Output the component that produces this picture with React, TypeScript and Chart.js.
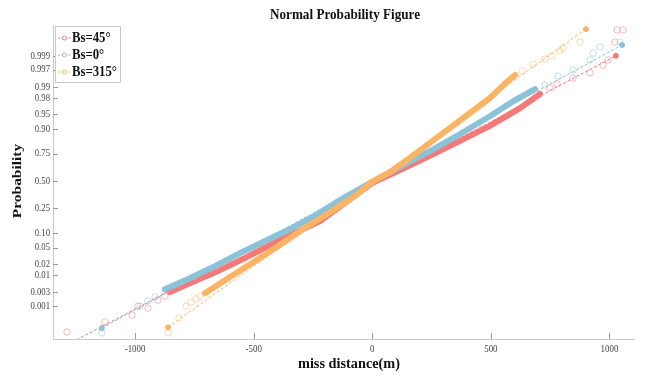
import React, { useEffect, useRef } from "react";
import { Chart, registerables } from "chart.js";
Chart.register(...registerables);

// ---------- data ----------
const probTickLabels = ["0.001", "0.003", "0.01", "0.02", "0.05", "0.10", "0.25", "0.50", "0.75", "0.90", "0.95", "0.98", "0.99", "0.997", "0.999"];
const xTickValues = [-1000, -500, 0, 500, 1000];
const seriesNames = ["Bs=45°", "Bs=0°", "Bs=315°"];

// y values are normal quantiles (probit) of the plotting positions
const red45CoreX = [-853, -748, -642, -537, -431, -326, -220, -115, -1, 117, 243, 370, 496, 623, 707];
const red45CoreQ = [-2.74, -2.47, -2.2, -1.9, -1.58, -1.28, -0.99, -0.54, -0.05, 0.27, 0.62, 0.99, 1.36, 1.8, 2.15];
const red45TailX = [-1287, -1127, -1013, -988, -946, -904, -874, 749, 779, 846, 918, 973, 994, 1023, 1032, 1057];
const red45TailQ = [-3.73, -3.48, -3.31, -3.09, -3.14, -2.94, -2.84, 2.3, 2.4, 2.54, 2.67, 2.86, 2.99, 3.43, 3.73, 3.73];
const red45RefX = [-1266, 1027];
const red45RefQ = [-3.98, 3.09];

const blue0CoreX = [-874, -769, -663, -558, -452, -347, -242, -136, -1, 117, 243, 370, 496, 602, 686];
const blue0CoreQ = [-2.67, -2.4, -2.1, -1.78, -1.48, -1.19, -0.86, -0.47, -0.02, 0.35, 0.74, 1.16, 1.6, 2.0, 2.27];
const blue0TailX = [-1140, -979, -946, -916, 728, 783, 846, 918, 931, 960, 1044];
const blue0TailQ = [-3.75, -3.09, -2.96, -2.86, 2.37, 2.59, 2.74, 2.99, 3.16, 3.31, 3.43];
const blue0RefX = [-1140, 1053];
const blue0RefQ = [-3.63, 3.36];

const orange315CoreX = [-705, -600, -495, -389, -284, -178, -73, -1, 75, 159, 243, 328, 412, 496, 559, 602];
const orange315CoreQ = [-2.77, -2.37, -1.98, -1.58, -1.16, -0.77, -0.37, -0.02, 0.22, 0.57, 0.94, 1.31, 1.68, 2.05, 2.4, 2.62];
const orange315TailX = [-861, -815, -785, -764, -743, -726, 631, 678, 728, 758, 791, 804, 876];
const orange315TailQ = [-3.75, -3.38, -3.09, -2.99, -2.91, -2.84, 2.72, 2.89, 3.01, 3.09, 3.21, 3.28, 3.43];
const orange315RefX = [-861, 901];
const orange315RefQ = [-3.61, 3.75];

// ---------- helpers ----------
function norminv(p: number): number {
  const a = [-3.969683028665376e1, 2.209460984245205e2, -2.759285104469687e2, 1.38357751867269e2, -3.066479806614716e1, 2.506628277459239];
  const b = [-5.447609879822406e1, 1.615858368580409e2, -1.556989798598866e2, 6.680131188771972e1, -1.328068155288572e1];
  const c = [-7.784894002430293e-3, -3.223964580411365e-1, -2.400758277161838, -2.549732539343734, 4.374664141464968, 2.938163982698783];
  const d = [7.784695709041462e-3, 3.224671290700398e-1, 2.445134137142996, 3.754408661907416];
  const pl = 0.02425;
  if (p < pl) {
    const q = Math.sqrt(-2 * Math.log(p));
    return (((((c[0] * q + c[1]) * q + c[2]) * q + c[3]) * q + c[4]) * q + c[5]) / ((((d[0] * q + d[1]) * q + d[2]) * q + d[3]) * q + 1);
  }
  if (p > 1 - pl) {
    const q = Math.sqrt(-2 * Math.log(1 - p));
    return -(((((c[0] * q + c[1]) * q + c[2]) * q + c[3]) * q + c[4]) * q + c[5]) / ((((d[0] * q + d[1]) * q + d[2]) * q + d[3]) * q + 1);
  }
  const q = p - 0.5;
  const r = q * q;
  return ((((((a[0] * r + a[1]) * r + a[2]) * r + a[3]) * r + a[4]) * r + a[5]) * q) / (((((b[0] * r + b[1]) * r + b[2]) * r + b[3]) * r + b[4]) * r + 1);
}

const pts = (xs: number[], ys: number[]) => xs.map((x, i) => ({ x, y: ys[i] }));

const RED = "rgb(243,122,120)";
const BLUE = "rgb(138,194,216)";
const ORANGE = "rgb(251,180,100)";
const RED_T = "rgba(243,122,120,0.5)";
const BLUE_T = "rgba(138,194,216,0.5)";
const ORANGE_T = "rgba(251,180,100,0.5)";
const SERIF = '"Liberation Serif", "Times New Roman", serif';

function drawText(ctx: CanvasRenderingContext2D, text: string, x: number, y: number, font: string, align: CanvasTextAlign, opts: { width?: number; sx?: number; rotate?: boolean; color?: string } = {}) {
  ctx.save();
  ctx.font = font;
  ctx.fillStyle = opts.color || "#111";
  ctx.textAlign = align;
  ctx.textBaseline = "middle";
  ctx.translate(x, y);
  if (opts.rotate) ctx.rotate(-Math.PI / 2);
  let sx = opts.sx ?? 1;
  if (opts.width) sx = opts.width / ctx.measureText(text).width;
  if (opts.rotate) ctx.scale(sx, 0.88);
  else ctx.scale(sx, 1);
  ctx.fillText(text, 0, 0);
  ctx.restore();
}

const overlay = {
  id: "overlay",
  afterDraw(chart: any) {
    const ctx: CanvasRenderingContext2D = chart.ctx;
    const { left, right, top, bottom } = chart.chartArea;
    const xs = chart.scales.x;
    const ys = chart.scales.y;
    ctx.save();
    // axes lines
    ctx.strokeStyle = "#c9c9c9";
    ctx.lineWidth = 1;
    ctx.beginPath();
    ctx.moveTo(left + 0.5, top);
    ctx.lineTo(left + 0.5, bottom + 0.5);
    ctx.lineTo(right, bottom + 0.5);
    ctx.stroke();
    // ticks
    ctx.strokeStyle = "#9a9a9a";
    ctx.beginPath();
    probTickLabels.forEach((lab) => {
      const py = Math.round(ys.getPixelForValue(norminv(parseFloat(lab)))) + 0.5;
      ctx.moveTo(left, py);
      ctx.lineTo(left + 5, py);
    });
    xTickValues.forEach((v) => {
      const px = Math.round(xs.getPixelForValue(v)) + 0.5;
      ctx.moveTo(px, bottom);
      ctx.lineTo(px, bottom - 6);
    });
    ctx.stroke();
    // tick labels
    probTickLabels.forEach((lab) => {
      const py = ys.getPixelForValue(norminv(parseFloat(lab)));
      drawText(ctx, lab, left - 3, py, `10.5px ${SERIF}`, "right", { sx: 0.83, color: "#444" });
    });
    xTickValues.forEach((v) => {
      const px = xs.getPixelForValue(v);
      drawText(ctx, String(v), px, bottom + 10, `10.5px ${SERIF}`, "center", { sx: 0.85, color: "#444" });
    });
    // title and axis titles
    drawText(ctx, "Normal Probability Figure", 345, 15, `bold 15px ${SERIF}`, "center", { width: 150 });
    drawText(ctx, "miss distance(m)", 349, 364, `bold 15px ${SERIF}`, "center", { width: 102 });
    drawText(ctx, "Probability", 18, 181, `bold 15px ${SERIF}`, "center", { rotate: true, sx: 1.03 });
    // legend
    ctx.fillStyle = "#fff";
    ctx.fillRect(55.5, 26.5, 65, 56);
    ctx.strokeStyle = "#c9c9c9";
    ctx.strokeRect(55.5, 26.5, 65, 56);
    const cols = [RED, BLUE, ORANGE];
    const ly = [38, 55, 72];
    seriesNames.forEach((name, i) => {
      ctx.strokeStyle = cols[i];
      ctx.lineWidth = 1;
      ctx.setLineDash([2, 1.5]);
      ctx.beginPath();
      ctx.moveTo(58, ly[i]);
      ctx.lineTo(71, ly[i]);
      ctx.stroke();
      ctx.setLineDash([]);
      ctx.beginPath();
      ctx.arc(64.5, ly[i], 2, 0, Math.PI * 2);
      ctx.fillStyle = "#fff";
      ctx.fill();
      ctx.stroke();
      drawText(ctx, name, 72, ly[i], `bold 15px ${SERIF}`, "left", { sx: 0.85 });
    });
    ctx.restore();
  },
};

function seriesSets(coreX: number[], coreQ: number[], tailX: number[], tailQ: number[], refX: number[], refQ: number[], col: string, colT: string, base: number) {
  return [
    {
      data: pts(refX, refQ),
      showLine: true,
      borderColor: col,
      backgroundColor: col,
      borderWidth: 1,
      borderDash: [3, 2],
      pointRadius: 2.5,
      pointBorderWidth: 1,
      order: base,
    },
    {
      data: pts(tailX, tailQ),
      showLine: false,
      borderColor: colT,
      backgroundColor: "rgba(0,0,0,0)",
      pointRadius: 3.2,
      pointBorderWidth: 1,
      order: base + 1,
    },
    {
      data: pts(coreX, coreQ),
      showLine: true,
      borderColor: col,
      backgroundColor: col,
      borderWidth: 6,
      borderCapStyle: "round",
      borderJoinStyle: "round",
      pointRadius: 0,
      order: base + 2,
    },
  ];
}

export default function App() {
  const ref = useRef<HTMLCanvasElement>(null);
  useEffect(() => {
    if (!ref.current) return;
    const chart = new Chart(ref.current, {
      type: "scatter",
      data: {
        datasets: [
          ...seriesSets(orange315CoreX, orange315CoreQ, orange315TailX, orange315TailQ, orange315RefX, orange315RefQ, ORANGE, ORANGE_T, 10),
          ...seriesSets(blue0CoreX, blue0CoreQ, blue0TailX, blue0TailQ, blue0RefX, blue0RefQ, BLUE, BLUE_T, 20),
          ...seriesSets(red45CoreX, red45CoreQ, red45TailX, red45TailQ, red45RefX, red45RefQ, RED, RED_T, 30),
        ] as any,
      },
      options: {
        responsive: false,
        animation: false,
        layout: { padding: { top: 25, right: 10, left: 0, bottom: 0 } },
        plugins: { legend: { display: false }, tooltip: { enabled: false }, title: { display: false } },
        scales: {
          x: {
            type: "linear",
            min: -1346,
            max: 1107.5,
            ticks: { display: false },
            grid: { display: false },
            border: { display: false },
            afterFit: (s: any) => {
              s.height = 38;
            },
          },
          y: {
            type: "linear",
            min: -3.9,
            max: 3.852,
            ticks: { display: false },
            grid: { display: false },
            border: { display: false },
            afterFit: (s: any) => {
              s.width = 53;
            },
          },
        },
      } as any,
      plugins: [overlay],
    });
    return () => chart.destroy();
  }, []);
  return (
    <div style={{ position: "absolute", left: 0, top: 0, width: 645, height: 377, background: "#fff" }}>
      <canvas ref={ref} width={645} height={377} style={{ display: "block" }} />
    </div>
  );
}
